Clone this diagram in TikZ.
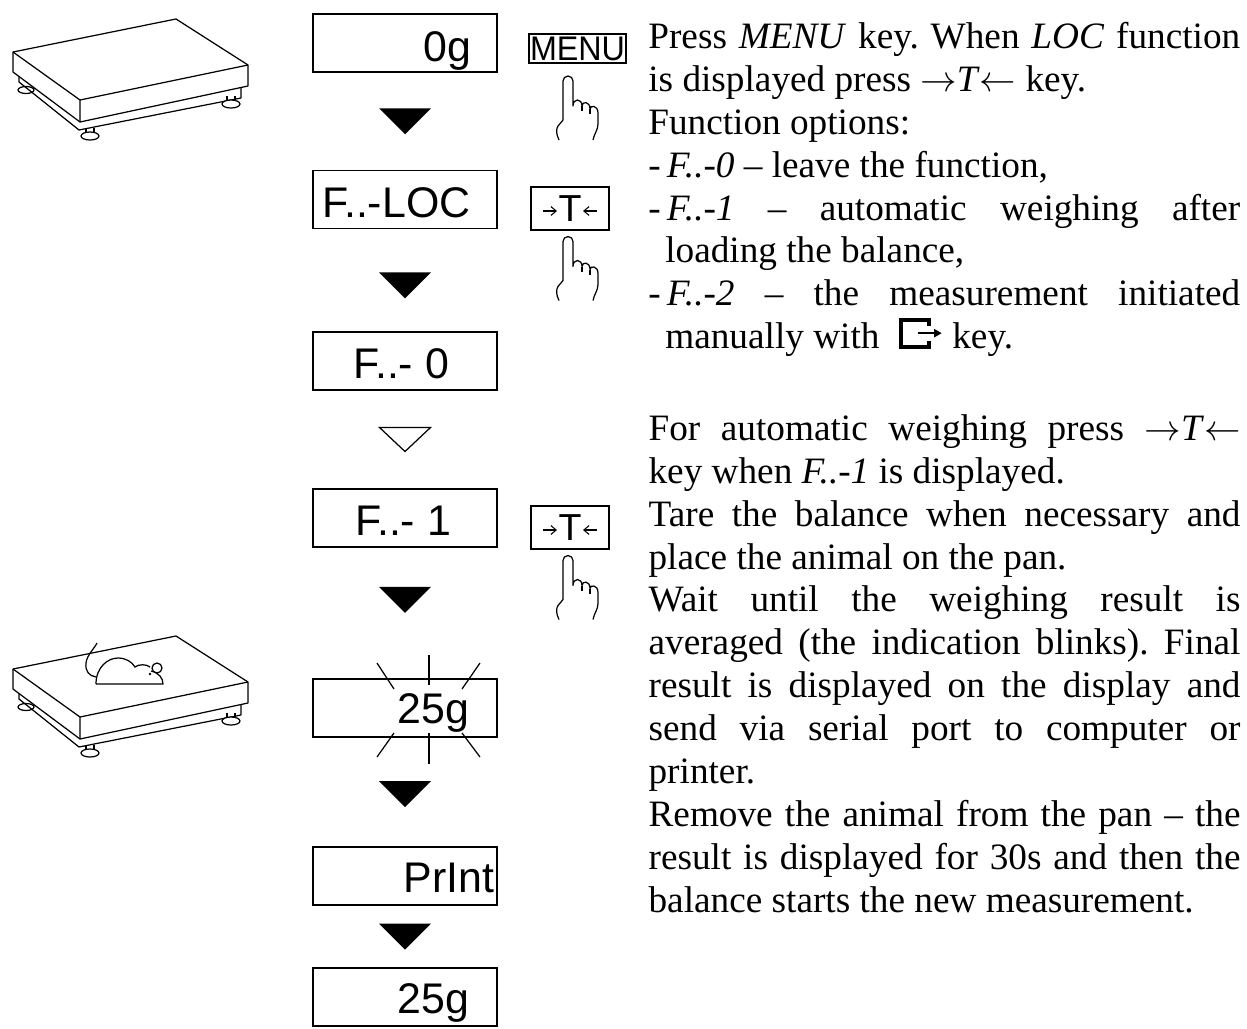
\documentclass[tikz,border=0pt]{standalone}
\usepackage{fontspec}
\setmainfont{Liberation Serif}
\newfontfamily\lcdfont{Liberation Sans}
\usepackage{graphicx}
\usetikzlibrary{arrows.meta,calc}
\setlength{\parindent}{0pt}
\tolerance=9999
\hyphenpenalty=10000
\frenchspacing

\newcommand{\optline}{\hangindent=0.34cm\hangafter=1 -\,}
\newcommand{\tarekey}{$\rightarrow$\textit{T}$\leftarrow$}
\newcommand{\printkey}{\tikz[baseline=0pt]{
    \draw[line width=2.2pt] (0.6cm,0.46cm) -- (0.6cm,0.58cm) -- (0.04cm,0.58cm) -- (0.04cm,0.04cm) -- (0.6cm,0.04cm) -- (0.6cm,0.16cm);
    \draw[line width=1.5pt,-{Triangle[length=0.15cm,width=0.16cm]}] (0.38cm,0.31cm) -- (0.86cm,0.31cm);}}

\begin{document}
\begin{tikzpicture}[x=0.02cm, y=-0.02cm, line width=0.7pt,
    disp/.style={draw, minimum width=3.68cm, minimum height=1.16cm, inner sep=0pt},
    lcd/.style={anchor=base west, inner sep=0pt, font=\lcdfont\fontsize{24.4pt}{28pt}\selectfont},
    keybox/.style={draw, inner sep=0pt, line width=0.6pt},
    txt/.style={anchor=north west, inner sep=0pt, text width=11.84cm, align=justify,
      font=\fontsize{21.2pt}{24.4pt}\selectfont},
    hand/.pic={
      \draw[line join=round] (-9,64) .. controls (-12,58) and (-12,53) .. (-10,50) -- (-5,44) -- (-5,5)
        arc[start angle=180, end angle=360, radius=5] -- (5,30)
        .. controls (5,22) and (14,22) .. (14,30) .. controls (14,25) and (22,25) .. (22,33)
        .. controls (22,29) and (30,29) .. (30,37) -- (30,48) .. controls (30,54) and (26,58) .. (25,64);
      \draw (14,30) -- (14,35) (22,33) -- (22,38);
    },
    platform/.pic={
      \draw[fill=white] (13,38) ellipse [x radius=8, y radius=3.5];
      \draw[line join=round] (6,22) -- (6,30) -- (66,78) -- (228,46) -- (228,36);
      \draw[fill=white, line join=round] (0,0) -- (0,20) -- (67,70) -- (235,34) -- (235,13) -- (163,-33) -- cycle;
      \draw[line join=round] (0,0) -- (67,48) -- (235,13) (67,48) -- (67,70);
      \foreach \fx/\fy in {77/84, 218/52} {
        \draw (\fx-4,\fy-8) -- (\fx-4,\fy-2) (\fx+4,\fy-8) -- (\fx+4,\fy-2);
        \draw[fill=white] (\fx,\fy) ellipse [x radius=9, y radius=4];
      }
    },
    mouse/.pic={
      \draw (84,-26) .. controls (81,-20) and (74,-14) .. (73,-6) .. controls (72,2) and (76,7) .. (83,8);
      \draw (83,15) .. controls (83,-2) and (95,-11) .. (105,-11) .. controls (113,-11) and (119,-7) .. (122,-2)
        .. controls (126,-5) and (133,-5) .. (137,-2);
      \draw (144,-1) circle [radius=5];
      \draw[fill=white, draw=white] (140,3) -- (150,15) -- (135,15) -- cycle;
      \draw (138,2) .. controls (146,4) and (150,9) .. (150,15) -- (83,15);
      \fill (137,5) circle [radius=1.3];
    }]
  \useasboundingbox (0,0) rectangle (1247,1028);

  % balances
  \pic at (13,52) {platform};
  \pic at (13,669) {platform};
  \pic at (13,669) {mouse};

  % displays
  \foreach \n/\yb/\tx/\ty/\txt in {1/43/423/61/0g, 2/199.5/322/217/F..-LOC, 3/361/353/378/F..- 0,
      4/518/355/535/F..- 1, 5/708/397/723/25g, 6/876/403/892/PrInt, 7/997/397/1013/25g} {
    \node[disp] (d\n) at (405,\yb) {};
    \node[lcd] (t\n) at (\tx,\ty) {\txt};
  }

  % blinking
  \foreach \a/\b/\c/\d in {429/655/429/685, 377/663/394/689, 480/663/462/689,
      429/733/429/764, 394/733/377/757, 462/733/480/757}
    \draw (\a,\b) -- (\c,\d);

  % arrows between displays
  \foreach \a/\b/\f in {d1/d2/.5, d2/d3/.55, d4/d5/.4, d5/d6/.52, d6/d7/.5}
    \fill ($(\a.south)!\f!(\b.north)$) +(-26,-13) -- +(26,-13) -- +(0,13) -- cycle;
  \draw ($(d3.south)!.5!(d4.north)$) +(-25.5,-12) -- +(25.5,-12) -- +(0,12) -- cycle;

  % keys
  \node[keybox, minimum width=1.94cm, minimum height=0.58cm] (menu) at (577.5,48.5)
    {\resizebox{1.9cm}{0.47cm}{\lcdfont MENU}};
  \pic at (568,76) {hand};
  \foreach \k/\y in {tare1/208.5, tare2/527.5} {
    \node[keybox, minimum width=1.56cm, minimum height=0.86cm,
      font=\lcdfont\fontsize{21.4pt}{24pt}\selectfont] (\k) at (570,\y) {T};
    \draw[line width=0.6pt, -{Straight Barb[length=3pt,width=5pt]}] ([shift={(-27,2.5)}]\k.center) -- ++(14,0);
    \draw[line width=0.6pt, -{Straight Barb[length=3pt,width=5pt]}] ([shift={(27,2.5)}]\k.center) -- ++(-14,0);
    \pic at ([shift={(-2,6)}]\k.south) {hand};
  }

  % description
  \node[txt] (steps) at (648,22) {Press \textit{MENU} key. When \textit{LOC} function\linebreak
    is displayed press \tarekey{} key.\par
    Function options:\par
    \optline\textit{F..-0} – leave the function,\par
    \optline\textit{F..-1} – automatic weighing after\linebreak loading the balance,\par
    \optline\textit{F..-2} – the measurement initiated\linebreak manually with \hspace{0.2cm}\printkey\ key.\par};
  \node[txt] (auto) at (648,414) {For automatic weighing press \tarekey\linebreak
    key when \textit{F..-1} is displayed.\par
    Tare the balance when necessary and\linebreak place the animal on the pan.\par
    Wait until the weighing result is\linebreak averaged (the indication blinks). Final\linebreak
    result is displayed on the display and\linebreak send via serial port to computer or\linebreak printer.\par
    Remove the animal from the pan – the\linebreak result is displayed for 30s and then the\linebreak
    balance starts the new measurement.\par};
\end{tikzpicture}
\end{document}
